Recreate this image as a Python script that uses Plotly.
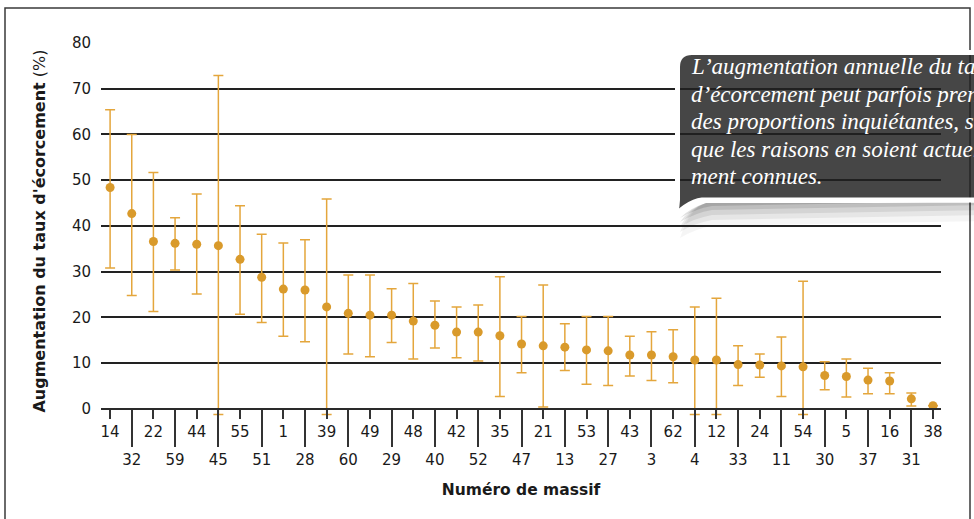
import plotly.graph_objects as go

# ---------------- data ----------------
massifs = ["14", "32", "22", "59", "44", "45", "55", "51", "1", "28", "39", "60", "49",
           "29", "48", "40", "42", "52", "35", "47", "21", "13", "53", "27", "43", "3",
           "62", "4", "12", "33", "24", "11", "54", "30", "5", "37", "16", "31", "38"]
valeurs = [48.4, 42.7, 36.6, 36.2, 36.0, 35.7, 32.7, 28.8, 26.2, 26.0, 22.3, 20.9, 20.5,
           20.5, 19.2, 18.3, 16.8, 16.8, 16.0, 14.2, 13.8, 13.5, 12.9, 12.7, 11.8, 11.8,
           11.4, 10.7, 10.7, 9.7, 9.6, 9.4, 9.2, 7.3, 7.1, 6.3, 6.1, 2.2, 0.7]
borne_sup = [65.4, 60.0, 51.7, 41.8, 47.0, 72.9, 44.4, 38.2, 36.3, 37.0, 45.9, 29.3, 29.3,
             26.3, 27.4, 23.6, 22.3, 22.7, 28.9, 20.2, 27.1, 18.6, 20.2, 20.2, 15.9, 16.9,
             17.3, 22.3, 24.2, 13.8, 12.0, 15.7, 27.9, 10.3, 10.9, 8.9, 7.9, 3.5, None]
borne_inf = [30.8, 24.8, 21.3, 30.4, 25.1, -1.2, 20.7, 18.9, 15.9, 14.7, -1.2, 12.0, 11.4,
             14.5, 10.9, 13.3, 11.2, 10.5, 2.7, 7.9, 0.4, 8.4, 5.4, 5.1, 7.2, 6.2,
             5.7, -1.2, -1.2, 5.1, 6.9, 2.7, -1.2, 4.2, 2.6, 3.3, 3.3, 0.65, None]
y_ticks = [0, 10, 20, 30, 40, 50, 60, 70, 80]
titre_y = "<b>Augmentation du taux d'écorcement</b> (%)"
titre_x = "<b>Numéro de massif</b>"
bulle_lignes = ["L’augmentation annuelle du taux",
                "d’écorcement peut parfois prendre",
                "des proportions inquiétantes, sans",
                "que les raisons en soient actuelle-",
                "ment connues."]

# ---------------- layout geometry ----------------
W_FIG, H_FIG = 974, 519
Y_MIN, Y_MAX = -2.2, 80
L, R = 101, 941
Y0_PX, Y80_PX = 409, 43                   # pixel rows of y=0 and y=80
PX_PER_UNIT = (Y0_PX - Y80_PX) / Y_MAX
T = Y80_PX - (Y_MAX - 80) * PX_PER_UNIT
B = Y0_PX - Y_MIN * PX_PER_UNIT
PW, PH = R - L, B - T

def px(x):
    return (x - L) / PW

def py(y):
    return (B - y) / PH

def path(pts):
    out = []
    for cmd, *coords in pts:
        vals = [f"{px(coords[i]):.5f},{py(coords[i+1]):.5f}" for i in range(0, len(coords), 2)]
        out.append(cmd + " " + " ".join(vals))
    return " ".join(out) + " Z"

xs = list(range(len(massifs)))
err_plus = [(u - v) if u is not None else 0 for u, v in zip(borne_sup, valeurs)]
err_minus = [(v - l) if l is not None else 0 for l, v in zip(borne_inf, valeurs)]

FONT = "DejaVu Sans, sans-serif"
TXT = "#1a1a1a"
MARK = "#d99a2b"
ERR = "#e4a63c"

fig = go.Figure()
fig.add_trace(go.Scatter(
    x=xs, y=valeurs, mode="markers",
    marker=dict(color=MARK, size=9, line=dict(width=0)),
    error_y=dict(type="data", symmetric=False, array=err_plus, arrayminus=err_minus,
                 color=ERR, thickness=1.5, width=5),
    cliponaxis=False, showlegend=False, hoverinfo="skip"))
# invisible trace so the second (long-tick) x axis is drawn
fig.add_trace(go.Scatter(x=[xs[1]], y=[valeurs[1]], xaxis="x2", mode="markers",
                         marker=dict(opacity=0), showlegend=False, hoverinfo="skip"))

xr = [-0.42, len(massifs) - 1 + 0.37]
even = xs[0::2]
odd = xs[1::2]
axis_pos = (0 - Y_MIN) / (Y_MAX - Y_MIN)

shapes = []
# outer frame
shapes.append(dict(type="rect", xref="paper", yref="paper", x0=px(5), x1=px(970),
                   y0=py(8), y1=py(540), line=dict(color="#3a3a3a", width=1.5),
                   fillcolor="rgba(0,0,0,0)", layer="below"))
# soft shadow under the callout
for bot, a in [(226, 0.04), (220, 0.06), (215, 0.08), (210, 0.10), (206, 0.12)]:
    shapes.append(dict(type="path", xref="paper", yref="paper", layer="below",
                       path=path([("M", 706, 203), ("L", 990, 203), ("L", 990, bot - 5),
                                  ("L", 712, bot), ("Q", 695, bot + 3, 680, bot + 12),
                                  ("Q", 690, 208, 706, 203)]),
                       fillcolor=f"rgba(0,0,0,{a})", line=dict(width=0)))
# callout bubble
shapes.append(dict(type="path", xref="paper", yref="paper", layer="above",
                   path=path([("M", 677.5, 67), ("Q", 677.5, 52.5, 692, 52.5), ("L", 995, 52.5),
                              ("L", 995, 200), ("L", 702, 200), ("Q", 686, 202, 668, 223),
                              ("Q", 677.5, 214, 677.5, 200)]),
                   fillcolor="rgba(32,32,32,0.83)", line=dict(color="white", width=5)))

annotations = []
for i, ligne in enumerate(bulle_lignes):
    annotations.append(dict(xref="paper", yref="paper", x=px(689), y=py(67 + 27.5 * i),
                            xanchor="left", yanchor="middle", align="left", showarrow=False,
                            text=ligne,
                            font=dict(family="Liberation Serif, DejaVu Serif, serif", size=23,
                                      color="white", style="italic")))

tickfont = dict(size=15, family=FONT, color=TXT)
fig.update_layout(
    width=W_FIG, height=H_FIG,
    margin=dict(l=L, r=W_FIG - R, t=T, b=H_FIG - B, pad=0),
    paper_bgcolor="white", plot_bgcolor="white",
    font=dict(family=FONT, size=15, color=TXT),
    xaxis=dict(range=xr, tickmode="array", tickvals=even,
               ticktext=[massifs[i] for i in even],
               anchor="free", position=axis_pos,
               ticks="outside", ticklen=9, tickwidth=1.5, tickcolor="#333",
               showline=True, linecolor="#2a2a2a", linewidth=2,
               showgrid=False, zeroline=False, tickfont=tickfont),
    xaxis2=dict(range=xr, overlaying="x", side="bottom", anchor="free", position=axis_pos,
                tickmode="array", tickvals=odd, ticktext=[massifs[i] for i in odd],
                ticks="outside", ticklen=37, tickwidth=1.5, tickcolor="#333",
                showline=False, showgrid=False, zeroline=False, tickfont=tickfont,
                title=dict(text=titre_x, font=dict(size=15.5, family=FONT, color=TXT),
                           standoff=16)),
    yaxis=dict(range=[Y_MIN, Y_MAX], tickmode="array", tickvals=y_ticks,
               ticks="outside", ticklen=6, tickcolor="rgba(0,0,0,0)",
               showgrid=True, gridcolor="#222", gridwidth=1.5, zeroline=False,
               showline=False, tickfont=tickfont,
               title=dict(text=titre_y, font=dict(size=16, family=FONT, color=TXT),
                          standoff=22)),
    shapes=shapes,
    annotations=annotations,
)

fig.write_html("out.html", config={"displayModeBar": False},
               post_script="document.body.style.margin='0';document.body.style.overflow='hidden';")
